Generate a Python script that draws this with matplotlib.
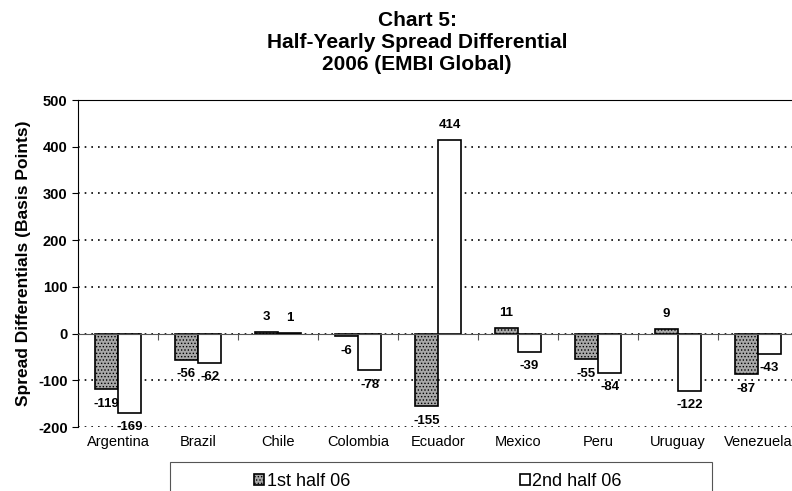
import numpy as np
import matplotlib
matplotlib.use('Agg')
import matplotlib.pyplot as plt
import matplotlib.transforms as mtransforms
from matplotlib.patches import Rectangle

plt.rcParams['font.family'] = ['Liberation Sans', 'DejaVu Sans']
plt.rcParams['axes.unicode_minus'] = False
plt.rcParams['hatch.color'] = '#444444'
plt.rcParams['hatch.linewidth'] = 0.6

countries = ['Argentina', 'Brazil', 'Chile', 'Colombia', 'Ecuador',
             'Mexico', 'Peru', 'Uruguay', 'Venezuela']
first_half = [-119, -56, 3, -6, -155, 11, -55, 9, -87]
second_half = [-169, -62, 1, -78, 414, -39, -84, -122, -43]
yticks = [-200, -100, 0, 100, 200, 300, 400, 500]

fig = plt.figure(figsize=(7.92, 4.91), dpi=100)
ax = fig.add_axes([78/792, 1-427/491, 720/792, 327/491])

x = np.arange(len(countries))
w = 0.29
b1 = ax.bar(x - w/2, first_half, w, color='#a8a8a8', hatch='.....',
            edgecolor='black', linewidth=1.2, label='1st half 06')
b2 = ax.bar(x + w/2, second_half, w, color='white',
            edgecolor='black', linewidth=1.2, label='2nd half 06')

for bars, vals in ((b1, first_half), (b2, second_half)):
    for r, v in zip(bars, vals):
        off = 11 if v >= 0 else -10.5
        ax.annotate(str(v), (r.get_x() + r.get_width()/2, v),
                    xytext=(0, off), textcoords='offset points',
                    ha='center', va='center', fontsize=9.5, fontweight='bold')

ax.set_xlim(-0.5, len(countries) - 0.5)
ax.set_ylim(-200, 500)
ax.set_yticks(yticks)
ax.tick_params(axis='y', labelsize=10.5, length=4, direction='out', width=0.8)
for t in ax.get_yticklabels():
    t.set_fontweight('bold')
ax.yaxis.grid(True, linestyle=(0, (1, 3)), color='black', linewidth=1.2)
ax.set_axisbelow(True)

# category axis sits at zero, ticks between categories
ax.spines['bottom'].set_position(('data', 0))
ax.spines['bottom'].set_color('#555555')
ax.spines['bottom'].set_linewidth(0.8)
ax.set_xticks(np.arange(len(countries) + 1) - 0.5)
ax.set_xticklabels([])
ax.tick_params(axis='x', length=4, direction='out', color='#555555')
ax.spines['right'].set_visible(False)
ax.spines['top'].set_linewidth(0.8)
ax.spines['left'].set_linewidth(0.8)

trans = mtransforms.blended_transform_factory(ax.transData, ax.transAxes)
for i, c in enumerate(countries):
    ax.text(i, -0.045, c, transform=trans, ha='center', va='center', fontsize=10.5)

ax.set_ylabel('Spread Differentials (Basis Points)', fontsize=12.5,
              fontweight='bold', labelpad=5)

for yy, line in zip((20, 42, 64), ('Chart 5:', 'Half-Yearly Spread Differential',
                                   '2006 (EMBI Global)')):
    fig.text(417/792, 1-yy/491, line, ha='center', va='center',
             fontsize=15, fontweight='bold')

# legend box (Excel style, clipped at the bottom of the image)
fig.patches.append(Rectangle((170/792, 1-495/491), 542/792, 33/491,
                             transform=fig.transFigure, facecolor='none',
                             edgecolor='#555555', linewidth=0.8))
leg = fig.legend(handles=[b1, b2], loc='center left', ncol=2,
                 bbox_to_anchor=(254/792, 1-481/491),
                 frameon=False, fontsize=13, handlelength=0.55,
                 handleheight=0.55, handletextpad=0.15, columnspacing=9.4,
                 borderpad=0.0, borderaxespad=0.0)

fig.savefig('out.png', dpi=100)
